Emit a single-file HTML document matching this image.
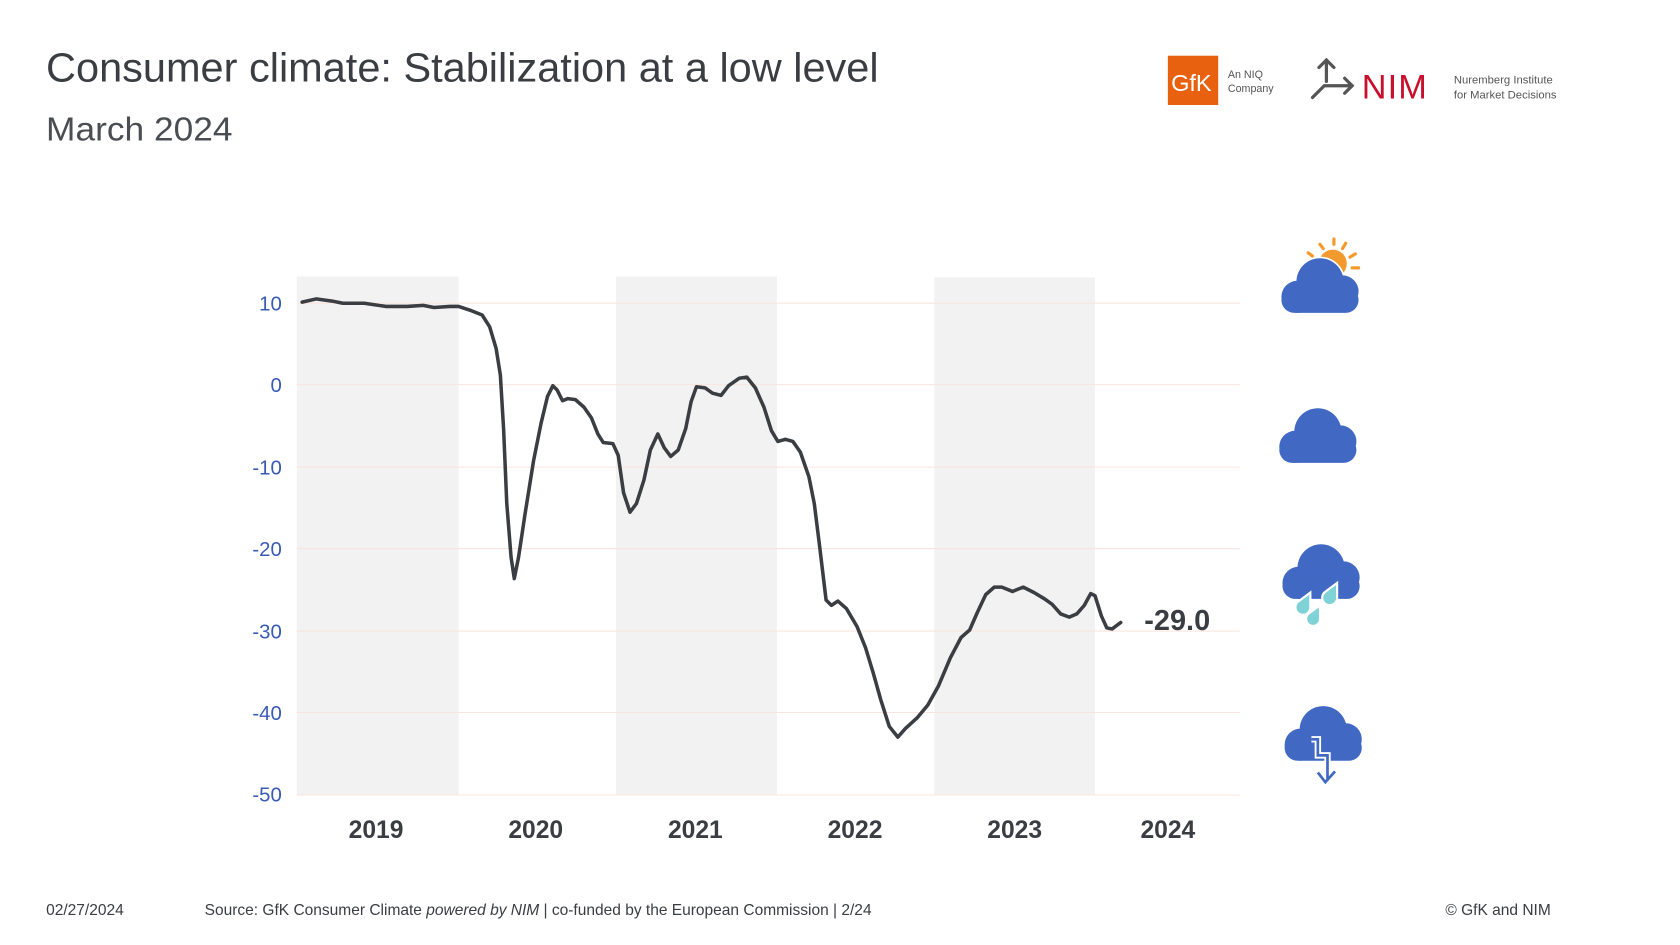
<!DOCTYPE html>
<html><head><meta charset="utf-8"><style>
html,body{margin:0;padding:0;background:#fff;}
svg{display:block;}
text{font-family:"Liberation Sans",sans-serif;}
</style></head><body>
<svg width="1680" height="945" viewBox="0 0 1568 882" xmlns="http://www.w3.org/2000/svg">
<defs>
<g id="cloud">
<circle cx="37" cy="23" r="22"/>
<circle cx="58" cy="32" r="15"/>
<circle cx="16" cy="37" r="15"/>
<rect x="1" y="28" width="72" height="24" rx="12"/>
</g>
</defs>
<rect width="1568" height="882" fill="#fff"/>
<text x="43" y="76" font-size="38" fill="#3a3d42" textLength="777" lengthAdjust="spacingAndGlyphs">Consumer climate: Stabilization at a low level</text>
<text x="43" y="131" font-size="31" fill="#4a4d52" textLength="174" lengthAdjust="spacingAndGlyphs">March 2024</text>

<!-- logos -->
<rect x="1090" y="52" width="47" height="46" fill="#e8610f"/>
<text x="1093" y="85" font-size="22" fill="#fff">GfK</text>
<text x="1146" y="73" font-size="10" fill="#555">An NIQ</text>
<text x="1146" y="86" font-size="10" fill="#555">Company</text>
<g stroke="#555" stroke-width="3" fill="none" stroke-linecap="round">
<path d="M1238 56 L1238 76 M1231 63 L1238 56 L1245 63"/>
<path d="M1225 91 L1236 80 L1262 80 M1255 73 L1262 80 L1255 87"/>
</g>
<text x="1271" y="92" font-size="32" fill="#c8102e" letter-spacing="1">NIM</text>
<text x="1357" y="78" font-size="10.5" fill="#555">Nuremberg Institute</text>
<text x="1357" y="92" font-size="10.5" fill="#555">for Market Decisions</text>

<!-- shaded bands -->
<g fill="#f2f2f2">
<rect x="277" y="258" width="151" height="484"/>
<rect x="575" y="258" width="150" height="484"/>
<rect x="872" y="259" width="150" height="483"/>
</g>
<!-- gridlines -->
<g stroke="#f8e5dd" stroke-width="1">
<line x1="277" y1="283" x2="1157" y2="283"/>
<line x1="277" y1="359" x2="1157" y2="359"/>
<line x1="277" y1="436" x2="1157" y2="436"/>
<line x1="277" y1="512" x2="1157" y2="512"/>
<line x1="277" y1="589" x2="1157" y2="589"/>
<line x1="277" y1="665" x2="1157" y2="665"/>
<line x1="277" y1="742" x2="1157" y2="742"/>
</g>
<g font-size="19" fill="#3a5bb5" text-anchor="end">
<text x="263" y="290">10</text>
<text x="263" y="366">0</text>
<text x="263" y="443">-10</text>
<text x="263" y="519">-20</text>
<text x="263" y="596">-30</text>
<text x="263" y="672">-40</text>
<text x="263" y="748">-50</text>
</g>
<g font-size="23" font-weight="bold" fill="#3a3d42" text-anchor="middle">
<text x="351" y="782">2019</text>
<text x="500" y="782">2020</text>
<text x="649" y="782">2021</text>
<text x="798" y="782">2022</text>
<text x="947" y="782">2023</text>
<text x="1090" y="782">2024</text>
</g>
<polyline fill="none" stroke="#3a3d42" stroke-width="3.3" stroke-linejoin="round" stroke-linecap="round" points="282,282 295,279 310,281 320,283 340,283 360,286 380,286 395,285 405,287 420,286 428,286 440,290 450,294 457,305 463,325 467,350 470,400 473,470 477,520 480,540 484,520 490,480 498,430 505,395 511,370 516,360 520,364 525,374 530,372 537,373 545,380 552,390 558,405 563,413 572,414 577,425 582,460 588,478 594,470 601,448 607,420 614,405 620,418 626,426 633,420 640,400 645,375 650,361 658,362 665,367 673,369 680,360 690,353 697,352 705,362 713,380 720,402 726,412 733,410 740,412 747,422 755,445 760,470 765,510 771,560 776,565 782,561 790,568 800,585 808,605 815,628 822,653 830,678 838,688 845,680 856,670 866,658 876,640 887,614 897,595 905,588 912,572 920,555 928,548 935,548 945,552 955,548 965,553 975,559 982,564 990,573 998,576 1005,573 1012,565 1018,554 1022,556 1028,575 1033,586 1038,587 1042,584 1046,581"/>
<text x="1068" y="588" font-size="27" font-weight="bold" fill="#3a3d42">-29.0</text>

<!-- icons -->
<g fill="#f39a2e" stroke="#f39a2e" stroke-width="3" stroke-linecap="round">
<circle cx="1244" cy="246" r="13" stroke="none"/>
<line x1="1245" y1="223" x2="1245" y2="228"/>
<line x1="1232" y1="228" x2="1235" y2="232"/>
<line x1="1221" y1="236" x2="1225" y2="239"/>
<line x1="1256" y1="227" x2="1253" y2="232"/>
<line x1="1265" y1="237" x2="1260" y2="240"/>
<line x1="1268" y1="250" x2="1262" y2="250"/>
<line x1="1264" y1="263" x2="1259" y2="260"/>
</g>
<g fill="#4169c4">
<use href="#cloud" x="1195" y="240" stroke="#fff" stroke-width="3"/>
<use href="#cloud" x="1195" y="240"/>
<use href="#cloud" x="1193" y="380"/>
<use href="#cloud" x="1196" y="507"/>
<use href="#cloud" x="1198" y="658"/>
</g>
<g fill="#7fd3d6" stroke="#fff" stroke-width="2">
<path d="M1211 562 l12 -9 l0 13 a7 7 0 1 1 -12 -4z"/>
<path d="M1236 553 l12 -9 l0 13 a7 7 0 1 1 -12 -4z"/>
<path d="M1221 573 l11 -8 l0 12 a6.5 6.5 0 1 1 -11 -4z"/>
</g>
<path d="M1224 690 L1230 690 L1230 705 L1239 705 L1239 728 M1230 721 L1237 730 L1246 720" fill="none" stroke="#fff" stroke-width="6"/>
<path d="M1224 690 L1230 690 L1230 705 L1239 705 L1239 728 M1230 721 L1237 730 L1246 720" fill="none" stroke="#4169c4" stroke-width="2.5"/>

<!-- footer -->
<g font-size="14.5" fill="#3a3d42">
<text x="43" y="854">02/27/2024</text>
<text x="191" y="854">Source: GfK Consumer Climate <tspan font-style="italic">powered by NIM</tspan> | co-funded by the European Commission | 2/24</text>
<text x="1349" y="854">© GfK and NIM</text>
</g>
</svg>
</body></html>
